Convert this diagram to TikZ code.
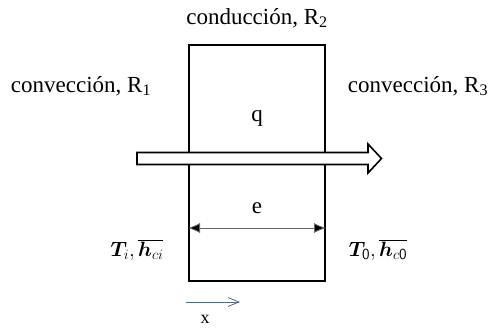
\documentclass[tikz,border=0pt]{standalone}
\usepackage{fontspec}
\setmainfont{Liberation Serif}
\usepackage{bm}
\usetikzlibrary{arrows.meta}
\begin{document}
\begin{tikzpicture}[x=1pt,y=-1pt,
  lbl/.style={inner sep=0pt,font=\fontsize{23}{26}\selectfont},
  mlbl/.style={inner sep=0pt,font=\fontsize{22}{24}\selectfont},
  wall/.style={draw=black,line width=2pt},
  flow/.style={draw=black,line width=1.6pt,fill=white},
  dim/.style={draw=gray!80!black,line width=0.8pt,{Latex[length=12pt,width=10pt,fill=black]}-{Latex[length=12pt,width=10pt,fill=black]}},
  axis/.style={draw={rgb,255:red,80;green,105;blue,140},line width=0.8pt,-{Straight Barb[length=11pt,width=9pt]}}]
\useasboundingbox (0,0) rectangle (489,327);
% wall
\node[wall,minimum width=136pt,minimum height=236pt,inner sep=0pt,anchor=north west] (wallbox) at (188,44) {};
% big arrow
\draw[flow] (137,152.5) -- (368,152.5) -- (368,144) -- (381.5,158.5) -- (368,173) -- (368,164.5) -- (137,164.5) -- cycle;
% labels
\node[lbl] (r2) at (257,18) {conducción, R\textsubscript{2}};
\node[lbl] (r1) at (81,86) {convección, R\textsubscript{1}};
\node[lbl] (r3) at (418,86) {convección, R\textsubscript{3}};
\node[lbl] (q) at (257,118) {q};
\node[lbl] (e) at (257,208) {e};
\coordinate (dl) at (wallbox.west |- 0,228);
\coordinate (dr) at (wallbox.east |- 0,228);
\draw[dim] (dl) -- (dr);
\node[mlbl] (ti) at (137,250) {$\bm{T}_{i},\overline{\bm{h}_{ci}}$};
\node[mlbl] (to) at (378,250) {$\bm{T}_{\mathsf{0}},\overline{\bm{h}_{c\mathsf{0}}}$};
\coordinate (xa) at (186,302);
\coordinate (xb) at (240,302);
\draw[axis] (xa) -- (xb);
\node[lbl,font=\fontsize{18}{20}\selectfont] (xl) at (205,319) {x};
\end{tikzpicture}
\end{document}
